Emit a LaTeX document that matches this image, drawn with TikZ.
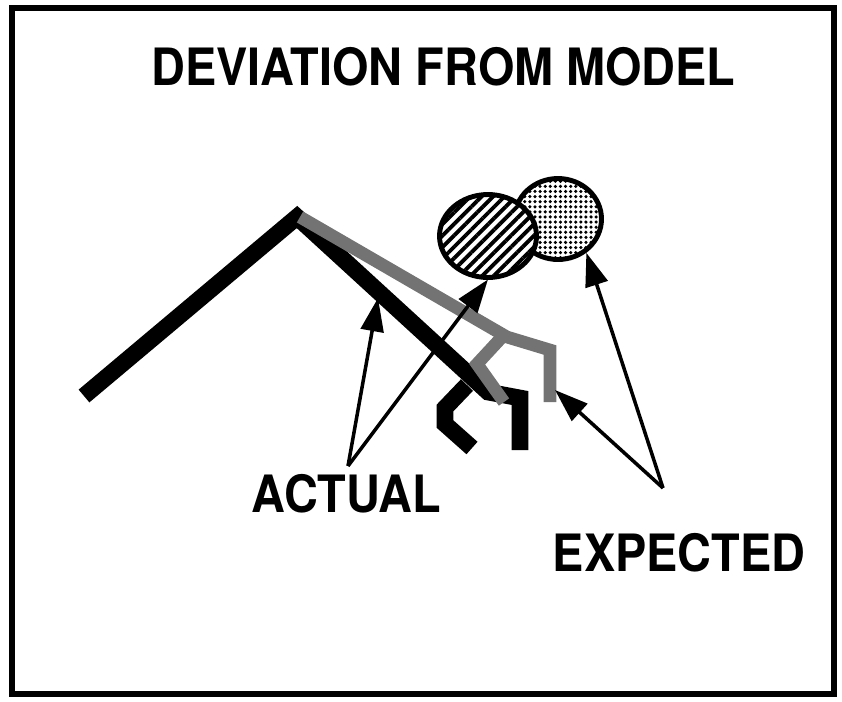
\documentclass[tikz,border=0pt]{standalone}
\usepackage{fontspec}
\setmainfont{TeX Gyre Heros}
\usepackage{graphicx}
\usetikzlibrary{arrows.meta,shapes.geometric,patterns.meta}

\begin{document}
\begin{tikzpicture}[x=0.02cm,y=-0.02cm,
  lbl/.style={inner sep=0pt,anchor=base,font=\fontsize{29.3}{32}\selectfont\bfseries},
  actline/.style={line width=9.5pt,line join=miter,line cap=butt},
  expline/.style={line width=7.2pt,black!55,line join=miter,line cap=butt},
  blob/.style={ellipse,draw,line width=2.8pt,inner sep=0pt,preaction={fill=white}},
  ptr/.style={line width=2pt,-{Triangle[length=19pt,width=13pt]}}]
 \useasboundingbox (0,0) rectangle (842,701);
 \draw[line width=3pt] (12,8) rectangle (834,694);
 \node[lbl] (title) at (443.5,85) {\scalebox{0.91}[1]{DEVIATION FROM MODEL}};
 % ---- actual pose ----
 \draw[actline] (84,396) -- (297,217) -- (488,392) -- (520,398) -- (520,450);
 \draw[actline] (467,385) -- (445,408) -- (445,424) -- (472,448);
 % ---- expected pose ----
 \draw[expline] (300,217) -- (507,337) -- (550,350) -- (550,402);
 \draw[expline] (502,337) -- (477,364) -- (504,402);
 % ---- blobs ----
 \node[blob,minimum width=1.74cm,minimum height=1.62cm,
   pattern={Dots[radius=1pt,distance=2.9pt]}] (dots) at (558,219) {};
 \node[blob,minimum width=1.94cm,minimum height=1.66cm,
   pattern={Lines[angle=45,distance=4.6pt,line width=2.2pt]}] (hatch) at (488,236) {};
 % ---- labels ----
 \node[lbl] (actual) at (346.5,512) {\scalebox{0.91}[1]{ACTUAL}};
 \node[lbl] (expected) at (679,571) {\scalebox{0.91}[1]{EXPECTED}};
 \coordinate (actfoot) at (348,466);
 \coordinate (expfoot) at (663,488);
 \coordinate (armtip) at (378,298);
 \coordinate (handtip) at (555,390);
 \draw[ptr] (actfoot) -- (armtip);
 \draw[ptr] (actfoot) -- (hatch.south);
 \draw[ptr] (expfoot) -- (handtip);
 \draw[ptr] (expfoot) -- (dots.-50);
\end{tikzpicture}
\end{document}
